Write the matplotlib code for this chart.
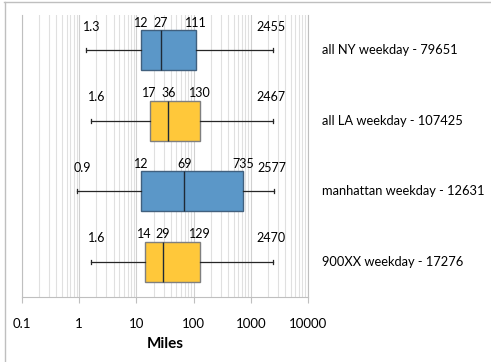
import matplotlib
matplotlib.use("Agg")
import matplotlib.pyplot as plt
from matplotlib.lines import Line2D
from matplotlib.ticker import LogLocator, FixedLocator, NullFormatter

plt.rcParams['font.family'] = ['Lato', 'DejaVu Sans']

categories = ["all NY weekday - 79651", "all LA weekday - 107425",
              "manhattan weekday - 12631", "900XX weekday - 17276"]
whisker_lo = [1.3, 1.6, 0.9, 1.6]
q1 = [12, 17, 12, 14]
med = [27, 36, 69, 29]
q3 = [111, 130, 735, 129]
whisker_hi = [2455, 2467, 2577, 2470]
colors = ["#5B97C8", "#FFC83A", "#5B97C8", "#FFC83A"]
edge_colors = ["#41607E", "#7F7F7F", "#41607E", "#7F7F7F"]
tick_vals = [0.1, 1, 10, 100, 1000, 10000]
tick_labels = ["0.1", "1", "10", "100", "1000", "10000"]

fig = plt.figure(figsize=(4.91, 3.62), dpi=100)
ax = fig.add_axes([22/491, (362-297)/362, (308-22)/491, (297-15)/362])

stats = []
for i in range(len(categories)):
    stats.append(dict(whislo=whisker_lo[i], q1=q1[i], med=med[i], q3=q3[i],
                      whishi=whisker_hi[i], fliers=[], label=categories[i]))
positions = [i + 0.5 for i in range(len(categories))]
bw = 0.57
bp = ax.bxp(stats, positions=positions, widths=bw, vert=False, patch_artist=True,
            showfliers=False, capwidths=0.05,
            whiskerprops=dict(color="#262626", lw=0.9),
            capprops=dict(color="#262626", lw=0.9),
            medianprops=dict(color="#1f2a36", lw=1.0))
for i, b in enumerate(bp['boxes']):
    b.set_facecolor(colors[i])
    b.set_edgecolor(edge_colors[i])
    b.set_linewidth(1.0)

ax.set_xscale('log')
ax.set_xlim(0.1, 10000)
ax.set_ylim(len(categories), 0)
ax.set_yticks([])

ax.xaxis.set_major_locator(FixedLocator(tick_vals))
ax.set_xticklabels(tick_labels)
ax.xaxis.set_minor_locator(LogLocator(base=10, subs=range(2, 10)))
ax.xaxis.set_minor_formatter(NullFormatter())
ax.tick_params(axis='x', which='major', length=4, width=0.8, color="#bfbfbf",
               pad=11, labelsize=9.5, labelcolor="#000000")
ax.tick_params(axis='x', which='minor', length=0)
ax.grid(True, which='major', axis='x', color="#d0d0d0", lw=0.8)
ax.grid(True, which='minor', axis='x', color="#e0e0e0", lw=0.8)
ax.set_axisbelow(True)
ax.spines['top'].set_visible(False)
for s in ['left', 'right', 'bottom']:
    ax.spines[s].set_color("#bfbfbf")
    ax.spines[s].set_linewidth(0.8)

ax.set_xlabel("Miles", fontsize=11, fontweight='bold', labelpad=5)

for i, cat in enumerate(categories):
    y = positions[i]
    top = y - bw / 2
    ax.text(1.049, y, cat, transform=ax.get_yaxis_transform(), fontsize=9.3,
            va='center', ha='left', clip_on=False)
    for v in (q1[i], med[i], q3[i]):
        ax.annotate(str(v), (v, top), xytext=(0, 1), textcoords='offset points',
                    ha='center', va='bottom', fontsize=9)
    ax.annotate(str(whisker_lo[i]), (whisker_lo[i], top), xytext=(4, -2),
                textcoords='offset points', ha='center', va='bottom', fontsize=9)
    ax.annotate(str(whisker_hi[i]), (whisker_hi[i], top), xytext=(-1.5, -2),
                textcoords='offset points', ha='center', va='bottom', fontsize=9)

# outer chart border (partially visible)
fig.add_artist(Line2D([4/491, 1], [1 - 1.5/362, 1 - 1.5/362], transform=fig.transFigure,
                      color="#bfbfbf", lw=1))
fig.add_artist(Line2D([4.5/491, 4.5/491], [0, 1 - 1.5/362], transform=fig.transFigure,
                      color="#bfbfbf", lw=1))

fig.savefig("out.png", dpi=100)
